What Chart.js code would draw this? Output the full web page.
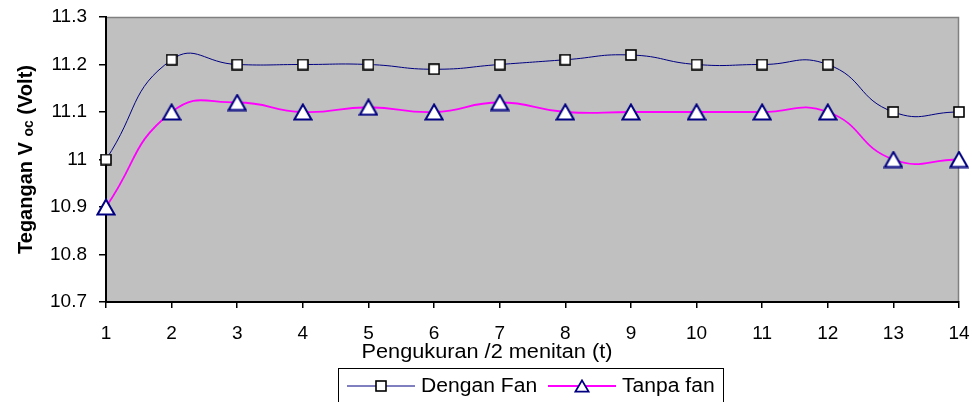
<!DOCTYPE html>
<html>
<head>
<meta charset="utf-8">
<script src="https://cdn.jsdelivr.net/npm/chart.js@4.4.1/dist/chart.umd.min.js"></script>
<style>
  html, body { margin: 0; padding: 0; background: #fff; }
  #wrap { width: 972px; height: 402px; }
</style>
</head>
<body>
<div id="wrap"><canvas id="grafikVoc" width="972" height="402"></canvas></div>
<script>
// data
const pengukuran = ["1", "2", "3", "4", "5", "6", "7", "8", "9", "10", "11", "12", "13", "14"];
const denganFan = [11.0, 11.21, 11.2, 11.2, 11.2, 11.19, 11.2, 11.21, 11.22, 11.2, 11.2, 11.2, 11.1, 11.1];
const tanpaFan = [10.9, 11.1, 11.12, 11.1, 11.11, 11.1, 11.12, 11.1, 11.1, 11.1, 11.1, 11.1, 11.0, 11.0];
const sumbuY = { min: 10.7, max: 11.3, step: 0.1 };

const FONT = '"Liberation Sans", Arial, sans-serif';

// penanda kotak putih
const buatKotak = (s) => {
  const c = document.createElement("canvas");
  c.width = s; c.height = s;
  const g = c.getContext("2d");
  g.fillStyle = "#fff";
  g.fillRect(1, 1, s - 2, s - 2);
  g.strokeStyle = "#000";
  g.lineWidth = 1.6;
  g.strokeRect(1, 1, s - 2, s - 2);
  return c;
};

// penanda segitiga putih garis biru tua
const buatSegitiga = (w, h, lw) => {
  const c = document.createElement("canvas");
  c.width = w; c.height = h;
  const g = c.getContext("2d");
  g.beginPath();
  g.moveTo(w / 2, lw / 2 + 0.5);
  g.lineTo(w - lw / 2 - 0.5, h - lw / 2 - 0.5);
  g.lineTo(lw / 2 + 0.5, h - lw / 2 - 0.5);
  g.closePath();
  g.fillStyle = "#fff";
  g.fill();
  g.strokeStyle = "#000080";
  g.lineWidth = lw;
  g.lineJoin = "miter";
  g.stroke();
  return c;
};

const kotak = buatKotak(12);
const segitiga = buatSegitiga(20, 18, 2);
const segitigaKecil = buatSegitiga(16, 14, 1.8);

// teks yang sedikit melebar seperti aslinya
const teksLebar = (ctx, s, x, y, skala) => {
  ctx.save();
  ctx.translate(x, y);
  ctx.scale(skala, 1);
  ctx.fillText(s, 0, 0);
  ctx.restore();
};

const latarPlot = {
  id: "latarPlot",
  beforeDraw(chart) {
    const { ctx, chartArea: a } = chart;
    ctx.save();
    ctx.fillStyle = "#c0c0c0";
    ctx.fillRect(a.left, a.top, a.right - a.left, a.bottom - a.top);
    ctx.strokeStyle = "#808080";
    ctx.lineWidth = 1.5;
    ctx.beginPath();
    ctx.moveTo(a.left, a.top + 0.5);
    ctx.lineTo(a.right - 0.5, a.top + 0.5);
    ctx.lineTo(a.right - 0.5, a.bottom);
    ctx.stroke();
    ctx.restore();
  },
  afterDraw(chart) {
    const { ctx, chartArea: a } = chart;
    ctx.save();
    ctx.fillStyle = "#000";
    ctx.textAlign = "left";
    ctx.textBaseline = "alphabetic";

    // judul sumbu Y dengan subskrip
    const fUtama = "bold 20px " + FONT, fSub = "bold 14px " + FONT;
    ctx.font = fUtama;
    const w1 = ctx.measureText("Tegangan V ").width;
    const w3 = ctx.measureText(" (Volt)").width;
    ctx.font = fSub;
    const w2 = ctx.measureText("oc").width;
    ctx.save();
    ctx.translate(32, (a.top + a.bottom) / 2);
    ctx.rotate(-Math.PI / 2);
    let x = -(w1 + w2 + w3) / 2;
    ctx.font = fUtama; ctx.fillText("Tegangan V ", x, 0); x += w1;
    ctx.font = fSub; ctx.fillText("oc", x, 1); x += w2;
    ctx.font = fUtama; ctx.fillText(" (Volt)", x, 0);
    ctx.restore();

    // judul sumbu X
    ctx.font = "20px " + FONT;
    const judulX = "Pengukuran /2 menitan (t)";
    const wX = ctx.measureText(judulX).width * 1.085;
    teksLebar(ctx, judulX, 487 - wX / 2, 358, 1.085);

    // legenda
    ctx.strokeStyle = "#000";
    ctx.lineWidth = 1;
    ctx.strokeRect(338.5, 368.5, 385, 40);
    const ds = chart.data.datasets;
    const item = [
      { x0: 347, x1: 415, mk: kotak, tx: 421 },
      { x0: 548, x1: 616, mk: segitigaKecil, tx: 622 }
    ];
    const yL = 386;
    item.forEach((it, i) => {
      ctx.strokeStyle = ds[i].borderColor;
      ctx.lineWidth = ds[i].borderWidth;
      ctx.beginPath();
      ctx.moveTo(it.x0, yL);
      ctx.lineTo(it.x1, yL);
      ctx.stroke();
      const cx = (it.x0 + it.x1) / 2;
      ctx.drawImage(it.mk, Math.round(cx - it.mk.width / 2), Math.round(yL - it.mk.height / 2));
      ctx.fillStyle = "#000";
      ctx.font = "20px " + FONT;
      teksLebar(ctx, ds[i].label, it.tx, 392, 1.055);
    });
    ctx.restore();
  }
};

const ctx = document.getElementById("grafikVoc").getContext("2d");
const grafikVoc = new Chart(ctx, {
  type: "line",
  data: {
    labels: pengukuran,
    datasets: [
      {
        label: "Dengan Fan",
        data: denganFan,
        borderColor: "#000080",
        borderWidth: 1,
        tension: 0.5,
        fill: false,
        pointStyle: kotak,
        pointRadius: 6,
        clip: false
      },
      {
        label: "Tanpa fan",
        data: tanpaFan,
        borderColor: "#ff00ff",
        borderWidth: 1.8,
        tension: 0.5,
        fill: false,
        pointStyle: segitiga,
        pointRadius: 9,
        clip: false
      }
    ]
  },
  options: {
    responsive: false,
    animation: false,
    layout: { padding: { top: 17, right: 13, left: 0, bottom: 0 } },
    plugins: {
      legend: { display: false },
      tooltip: { enabled: false }
    },
    scales: {
      x: {
        offset: false,
        grid: { display: true, drawOnChartArea: false, drawTicks: true, tickLength: 6, color: "#000", lineWidth: 1.5 },
        border: { display: true, color: "#000", width: 2 },
        ticks: { color: "#000", font: { family: FONT, size: 19 }, padding: 14, maxRotation: 0, autoSkip: false },
        afterFit(s) {
          s.height = 100;
          s.paddingLeft = 0;
          s.paddingRight = 0;
        }
      },
      y: {
        min: sumbuY.min,
        max: sumbuY.max,
        grid: { display: true, drawOnChartArea: false, drawTicks: true, tickLength: 7, color: "#000", lineWidth: 1.5 },
        border: { display: true, color: "#000", width: 2 },
        ticks: {
          stepSize: sumbuY.step,
          color: "#000",
          font: { family: FONT, size: 19 },
          padding: 12,
          callback: (v) => String(Math.round(v * 10) / 10)
        },
        afterFit(s) {
          s.width = 106;
          s.paddingTop = 0;
          s.paddingBottom = 0;
        }
      }
    }
  },
  plugins: [latarPlot]
});
</script>
</body>
</html>
